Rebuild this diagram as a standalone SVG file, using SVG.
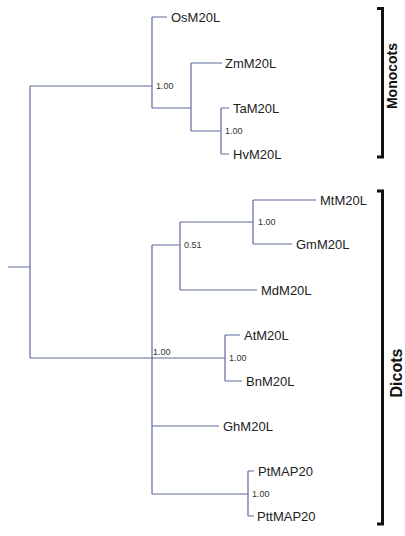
<svg xmlns="http://www.w3.org/2000/svg" width="405" height="536" viewBox="0 0 405 536">
<style>
.br{fill:none;stroke:#5f6a9e;stroke-width:1.2}
.lab{font-family:"Liberation Sans",Arial,sans-serif;font-size:13px;fill:#222}
.bs{font-family:"Liberation Sans",Arial,sans-serif;font-size:9px;fill:#333}
.grp{font-family:"Liberation Sans",Arial,sans-serif;font-weight:bold;fill:#111}
.bk{fill:none;stroke:#111;stroke-width:3}
</style>
<rect width="405" height="536" fill="#fff"/>
<g id="connectors" class="br">
<path d="M8,267H30M30,86V358M30,86H152M30,358H152"/>
<path d="M152,17V108M152,17H167M152,108H191"/>
<path d="M191,63V131M191,63H222M191,131H221"/>
<path d="M221,108V154M221,108H229M221,154H229"/>
<path d="M152,245V494M152,245H180M152,358H225M152,426H219M152,494H248"/>
<path d="M180,222V290M180,222H253M180,290H257"/>
<path d="M253,200V244M253,200H316M253,244H292"/>
<path d="M225,335V381M225,335H240M225,381H242"/>
<path d="M248,471V516M248,471H254M248,516H254"/>
</g>
<g id="n-mono"><text class="bs" x="156" y="89">1.00</text></g>
<g id="n-ztah"><text class="bs" x="225" y="134">1.00</text></g>
<g id="n-dicots"><text class="bs" x="153" y="355">1.00</text></g>
<g id="n-051"><text class="bs" x="184" y="248">0.51</text></g>
<g id="n-mtgm"><text class="bs" x="258" y="225">1.00</text></g>
<g id="n-atbn"><text class="bs" x="229" y="361">1.00</text></g>
<g id="n-pt"><text class="bs" x="252" y="497">1.00</text></g>
<g id="OsM20L"><text class="lab" x="171" y="22">OsM20L</text></g>
<g id="ZmM20L"><text class="lab" x="225" y="68">ZmM20L</text></g>
<g id="TaM20L"><text class="lab" x="233" y="113">TaM20L</text></g>
<g id="HvM20L"><text class="lab" x="233" y="159">HvM20L</text></g>
<g id="MtM20L"><text class="lab" x="320" y="205">MtM20L</text></g>
<g id="GmM20L"><text class="lab" x="296" y="249">GmM20L</text></g>
<g id="MdM20L"><text class="lab" x="261" y="295">MdM20L</text></g>
<g id="AtM20L"><text class="lab" x="244" y="340">AtM20L</text></g>
<g id="BnM20L"><text class="lab" x="246" y="386">BnM20L</text></g>
<g id="GhM20L"><text class="lab" x="223" y="431">GhM20L</text></g>
<g id="PtMAP20"><text class="lab" x="258" y="476">PtMAP20</text></g>
<g id="PttMAP20"><text class="lab" x="257" y="521">PttMAP20</text></g>
<g id="Monocots">
<path class="bk" d="M377,8.5H382.5V157H377"/>
<text class="grp" font-size="14" transform="translate(397,76) rotate(-90)" text-anchor="middle">Monocots</text>
</g>
<g id="Dicots">
<path class="bk" d="M377,191H382.5V524H377"/>
<text class="grp" font-size="16" transform="translate(401.5,373) rotate(-90)" text-anchor="middle">Dicots</text>
</g>
</svg>
